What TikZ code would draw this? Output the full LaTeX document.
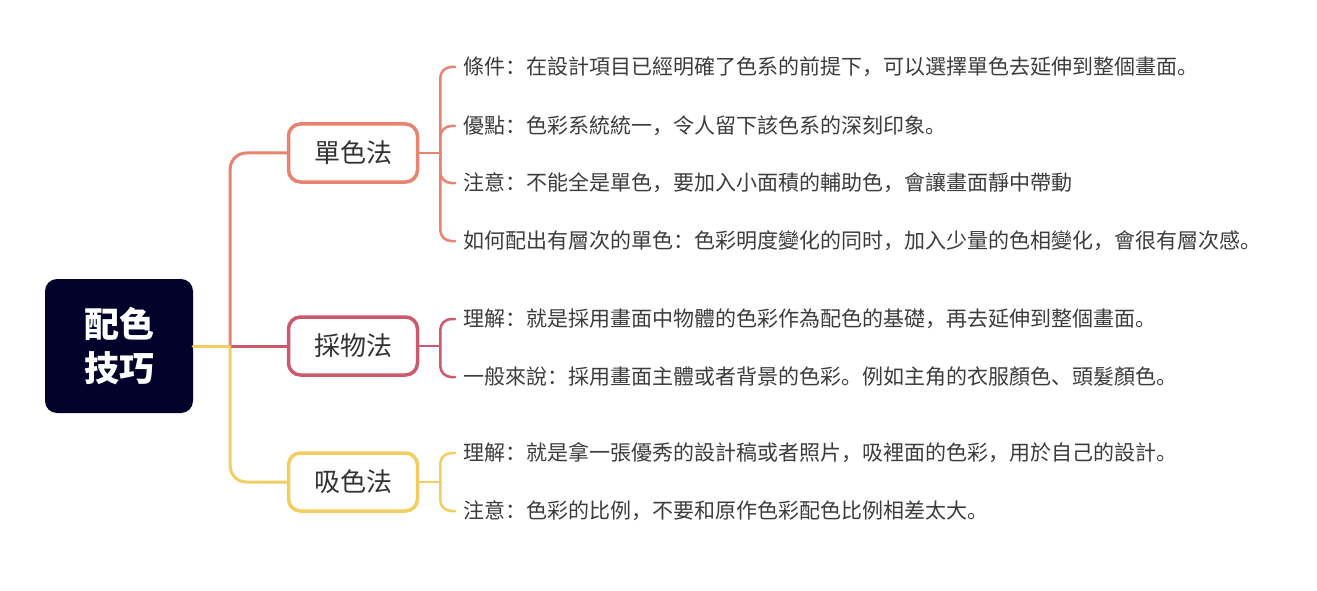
\documentclass[tikz,border=0pt]{standalone}
\usepackage{fontspec}
\setmainfont{Noto Sans CJK SC}
\usetikzlibrary{positioning}

\definecolor{rootfill}{HTML}{02022A}
\definecolor{dancol}{HTML}{E8836F}
\definecolor{caicol}{HTML}{CB5A6E}
\definecolor{xicol}{HTML}{F2CE60}
\definecolor{leaftext}{HTML}{3C3C3C}

\begin{document}
\begin{tikzpicture}[x=1pt,y=1pt,line cap=round,
  root node/.style={rectangle,rounded corners=12pt,fill=rootfill,text=white,
    minimum width=148pt,minimum height=134pt,align=center,
    font=\fontsize{35}{44}\selectfont\bfseries},
  branch node/.style={rectangle,rounded corners=12pt,fill=white,line width=3.5pt,
    minimum width=129pt,minimum height=58pt,text=black!80,
    font=\fontsize{26}{30}\selectfont},
  leaf node/.style={anchor=west,inner xsep=8pt,inner ysep=2pt,text=leaftext,
    font=\fontsize{21}{25}\selectfont},
  trunk/.style={line width=3pt,rounded corners=16pt},
  twig/.style={line width=2.5pt,rounded corners=11pt}]

  \useasboundingbox (0,0) rectangle (1317,-591);

  \node[root node] (root) at (119,-346) {配色\\技巧};

  \node[branch node,draw=dancol] (dan) at (353,-153) {單色法};
  \node[branch node,draw=caicol] (cai) at (353,-346) {採物法};
  \node[branch node,draw=xicol]  (xi)  at (353,-482) {吸色法};

  % leaves of each branch
  \node[leaf node] (dan1) at (455,-67)  {條件：在設計項目已經明確了色系的前提下，可以選擇單色去延伸到整個畫面。};
  \node[leaf node] (dan2) at (455,-126) {優點：色彩系統統一，令人留下該色系的深刻印象。};
  \node[leaf node] (dan3) at (455,-183) {注意：不能全是單色，要加入小面積的輔助色，會讓畫面靜中帶動};
  \node[leaf node] (dan4) at (455,-241) {如何配出有層次的單色：色彩明度變化的同时，加入少量的色相變化，會很有層次感。};

  \node[leaf node] (cai1) at (455,-319) {理解：就是採用畫面中物體的色彩作為配色的基礎，再去延伸到整個畫面。};
  \node[leaf node] (cai2) at (455,-377) {一般來說：採用畫面主體或者背景的色彩。例如主角的衣服顏色、頭髮顏色。};

  \node[leaf node] (xi1) at (455,-453) {理解：就是拿一張優秀的設計稿或者照片，吸裡面的色彩，用於自己的設計。};
  \node[leaf node] (xi2) at (455,-511) {注意：色彩的比例，不要和原作色彩配色比例相差太大。};

  % forks
  \coordinate (rootfork) at ([xshift=37pt]root.east);
  \coordinate (danfork)  at ([xshift=21pt]dan.east);
  \coordinate (caifork)  at ([xshift=21pt]cai.east);
  \coordinate (xifork)   at ([xshift=21pt]xi.east);

  % root to branches
  \draw[trunk,dancol] (rootfork) |- (dan.west);
  \draw[trunk,xicol]  (rootfork) |- (xi.west);
  \draw[trunk,caicol] (rootfork) -- (cai.west);
  \draw[trunk,xicol]  (root.east) -- (rootfork);

  % branches to leaves
  \draw[twig,dancol] (dan.east) -- (danfork);
  \foreach \leaf in {dan1,dan2,dan3,dan4}
    \draw[twig,dancol] (danfork) |- (\leaf.west);
  \draw[twig,caicol] (cai.east) -- (caifork);
  \foreach \leaf in {cai1,cai2}
    \draw[twig,caicol] (caifork) |- (\leaf.west);
  \draw[twig,xicol] (xi.east) -- (xifork);
  \foreach \leaf in {xi1,xi2}
    \draw[twig,xicol] (xifork) |- (\leaf.west);

\end{tikzpicture}
\end{document}
